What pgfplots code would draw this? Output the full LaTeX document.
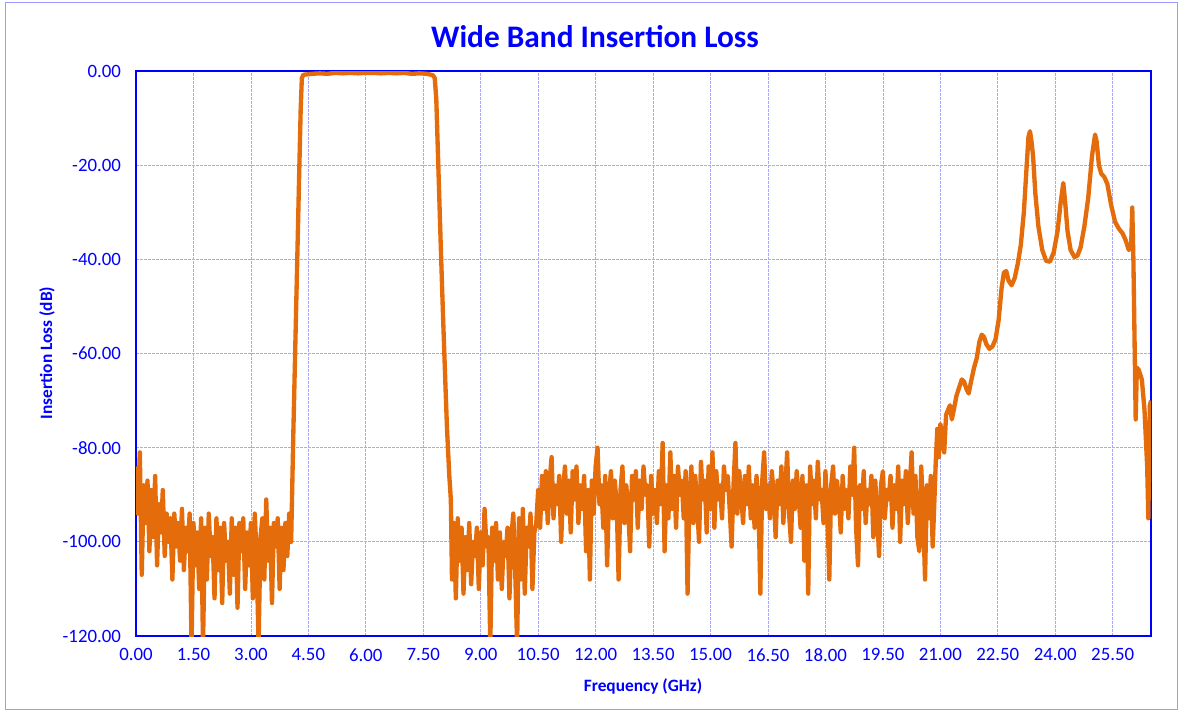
\documentclass[border=0pt]{standalone}
\usepackage{pgfplots}
\pgfplotsset{compat=1.18}
\usepackage{fontspec}
\setmainfont{Carlito}
\definecolor{lineor}{HTML}{E46C0A}
\definecolor{axblue}{HTML}{0000FF}
\definecolor{gridblue}{HTML}{A8A8FF}
\definecolor{framec}{HTML}{9C9CFF}
\begin{document}
\begin{tikzpicture}
\path (-81.6pt,-45pt) rectangle (626.4pt,381.6pt);
\draw[framec, line width=0.6pt] (-78pt,-43.8pt) rectangle (624.6pt,379.8pt);
\begin{axis}[
  name=ax, at={(0pt,0pt)}, anchor=south west,
  scale only axis, width=609pt, height=339pt,
  xmin=0, xmax=26.5, ymin=-120, ymax=0,
  xtick={0,1.5,3,4.5,6,7.5,9,10.5,12,13.5,15,16.5,18,19.5,21,22.5,24,25.5},
  xticklabels={0.00,1.50,3.00,4.50,6.00,7.50,9.00,10.50,12.00,13.50,15.00,16.50,18.00,19.50,21.00,22.50,24.00,25.50},
  ytick={-120,-100,-80,-60,-40,-20,0},
  yticklabels={-120.00,-100.00,-80.00,-60.00,-40.00,-20.00,0.00},
  major tick length=0pt,
  grid=major,
  major grid style={gridblue, line width=0.45pt, dash pattern=on 1.6pt off 0.8pt},
  axis line style={axblue, line width=1pt},
  ticklabel style={text=axblue, font=\fontsize{11.3}{13}\selectfont},
  xticklabel style={yshift=-4pt},
  yticklabel style={xshift=-5.5pt},
]
\addplot[lineor, line width=2.6pt, line join=round, mark=none] coordinates {
(0.00,-84) (0.05,-94) (0.10,-81) (0.15,-107) (0.20,-88) (0.25,-96) (0.30,-87) (0.35,-102) (0.40,-89) (0.45,-99)
(0.50,-86) (0.55,-105) (0.60,-92) (0.65,-98) (0.70,-89) (0.75,-103) (0.80,-94) (0.85,-100) (0.90,-95) (0.95,-108)
(1.00,-94) (1.05,-101) (1.10,-96) (1.15,-104) (1.20,-93) (1.25,-106) (1.30,-97) (1.35,-102) (1.40,-94) (1.45,-122)
(1.50,-96) (1.55,-105) (1.60,-98) (1.65,-110) (1.70,-95) (1.75,-122) (1.80,-97) (1.85,-108) (1.90,-94) (1.95,-103)
(2.00,-99) (2.05,-112) (2.10,-95) (2.15,-106) (2.20,-97) (2.25,-113) (2.30,-96) (2.35,-104) (2.40,-100) (2.45,-111)
(2.50,-95) (2.55,-107) (2.60,-97) (2.65,-114) (2.70,-96) (2.75,-102) (2.80,-95) (2.85,-110) (2.90,-98) (2.95,-105)
(3.00,-96) (3.05,-112) (3.10,-94) (3.15,-103) (3.20,-122) (3.25,-99) (3.30,-95) (3.35,-108) (3.40,-91) (3.45,-104)
(3.50,-97) (3.55,-113) (3.60,-96) (3.65,-101) (3.70,-95) (3.75,-110) (3.80,-97) (3.85,-106) (3.90,-96) (3.95,-103)
(4.00,-94) (4.05,-100) (4.08,-88) (4.11,-76) (4.16,-58) (4.21,-40) (4.26,-22) (4.30,-8) (4.33,-1.5) (4.37,-0.8)
(4.60,-0.6) (4.80,-0.5) (5.00,-0.6) (5.20,-0.4) (5.40,-0.5) (5.60,-0.4) (5.80,-0.5) (6.00,-0.4) (6.20,-0.4) (6.40,-0.5)
(6.60,-0.4) (6.80,-0.5) (7.00,-0.4) (7.20,-0.6) (7.40,-0.5) (7.60,-0.6) (7.75,-0.9)
(7.80,-1.5) (7.84,-6) (7.90,-22) (7.96,-38) (8.02,-53) (8.08,-67) (8.12,-76) (8.18,-86) (8.22,-91)
(8.25,-108) (8.30,-96) (8.35,-112) (8.40,-95) (8.45,-104) (8.50,-97) (8.55,-111) (8.60,-99) (8.65,-106) (8.70,-96)
(8.75,-109) (8.80,-100) (8.85,-103) (8.90,-97) (8.95,-110) (9.00,-98) (9.05,-105) (9.10,-93) (9.15,-101) (9.20,-99)
(9.25,-122) (9.30,-97) (9.35,-104) (9.40,-96) (9.45,-108) (9.50,-98) (9.55,-110) (9.60,-100) (9.65,-103) (9.70,-97)
(9.75,-112) (9.80,-99) (9.85,-94) (9.90,-106) (9.95,-122) (10.00,-95) (10.05,-108) (10.10,-93) (10.15,-111) (10.20,-97)
(10.25,-101) (10.30,-94) (10.35,-110) (10.40,-98) (10.45,-96)
(10.50,-89) (10.55,-97) (10.60,-86) (10.65,-93) (10.70,-85) (10.75,-96) (10.80,-87) (10.85,-82) (10.90,-95) (10.95,-88)
(11.00,-92) (11.05,-86) (11.10,-100) (11.15,-89) (11.20,-84) (11.25,-94) (11.30,-87) (11.35,-98) (11.40,-85) (11.45,-91)
(11.50,-84) (11.55,-96) (11.60,-88) (11.65,-93) (11.70,-86) (11.75,-102) (11.80,-89) (11.85,-108) (11.90,-87) (11.95,-94)
(12.00,-84) (12.05,-80) (12.10,-92) (12.15,-88) (12.20,-97) (12.25,-86) (12.30,-105) (12.35,-90) (12.40,-85) (12.45,-95)
(12.50,-87) (12.55,-92) (12.60,-108) (12.65,-89) (12.70,-84) (12.75,-96) (12.80,-88) (12.85,-93) (12.90,-102) (12.95,-86)
(13.00,-91) (13.05,-85) (13.10,-97) (13.15,-87) (13.20,-93) (13.25,-84) (13.30,-90) (13.35,-88) (13.40,-101) (13.45,-86)
(13.50,-94) (13.55,-89) (13.60,-96) (13.65,-85) (13.70,-92) (13.75,-79) (13.80,-102) (13.85,-88) (13.90,-95) (13.95,-81)
(14.00,-93) (14.05,-86) (14.10,-97) (14.15,-84) (14.20,-90) (14.25,-87) (14.30,-95) (14.35,-85) (14.40,-111) (14.45,-90)
(14.50,-84) (14.55,-96) (14.60,-86) (14.65,-92) (14.70,-100) (14.75,-83) (14.80,-91) (14.85,-87) (14.90,-98) (14.95,-84)
(15.00,-93) (15.05,-81) (15.10,-97) (15.15,-85) (15.20,-91) (15.25,-88) (15.30,-95) (15.35,-84) (15.40,-89) (15.45,-86)
(15.50,-93) (15.55,-101) (15.60,-88) (15.65,-79) (15.70,-94) (15.75,-85) (15.80,-90) (15.85,-96) (15.90,-86) (15.95,-92)
(16.00,-84) (16.05,-95) (16.10,-88) (16.15,-97) (16.20,-86) (16.25,-91) (16.30,-111) (16.35,-87) (16.40,-81) (16.45,-93)
(16.50,-88) (16.55,-95) (16.60,-85) (16.65,-90) (16.70,-99) (16.75,-87) (16.80,-92) (16.85,-84) (16.90,-96) (16.95,-89)
(17.00,-81) (17.05,-94) (17.10,-100) (17.15,-87) (17.20,-93) (17.25,-85) (17.30,-90) (17.35,-97) (17.40,-86) (17.45,-104)
(17.50,-88) (17.55,-111) (17.60,-84) (17.65,-92) (17.70,-87) (17.75,-95) (17.80,-83) (17.85,-91) (17.90,-89) (17.95,-96)
(18.00,-85) (18.05,-93) (18.10,-108) (18.15,-88) (18.20,-84) (18.25,-94) (18.30,-87) (18.35,-91) (18.40,-98) (18.45,-86)
(18.50,-93) (18.55,-89) (18.60,-95) (18.65,-84) (18.70,-90) (18.75,-80) (18.80,-97) (18.85,-105) (18.90,-88) (18.95,-93)
(19.00,-85) (19.05,-96) (19.10,-89) (19.15,-92) (19.20,-86) (19.25,-99) (19.30,-87) (19.35,-94) (19.40,-103) (19.45,-88)
(19.50,-85) (19.55,-95) (19.60,-89) (19.65,-91) (19.70,-86) (19.75,-97) (19.80,-88) (19.85,-93) (19.90,-84) (19.95,-100)
(20.00,-87) (20.05,-92) (20.10,-85) (20.15,-96) (20.20,-88) (20.25,-81) (20.30,-94) (20.35,-86) (20.40,-99) (20.45,-102)
(20.50,-84) (20.55,-93) (20.60,-108) (20.65,-88) (20.70,-95) (20.75,-86) (20.80,-101) (20.85,-90)
(20.88,-83) (20.92,-76) (20.96,-82) (21.00,-75) (21.05,-77) (21.10,-81) (21.15,-73) (21.20,-72) (21.25,-71) (21.30,-74)
(21.36,-71.6) (21.42,-69) (21.50,-67) (21.56,-65.5) (21.62,-66) (21.68,-67.5) (21.74,-68.5) (21.80,-66) (21.88,-63) (21.95,-61)
(22.02,-57.5) (22.08,-56) (22.14,-56.5) (22.20,-58) (22.28,-59) (22.36,-58.5) (22.44,-57) (22.52,-53) (22.60,-46) (22.66,-42.8)
(22.72,-42.5) (22.78,-44.5) (22.86,-45.5) (22.94,-44) (23.02,-41) (23.10,-37) (23.18,-30) (23.24,-22) (23.30,-14) (23.34,-12.8)
(23.38,-15) (23.42,-18) (23.48,-26) (23.56,-33) (23.66,-38) (23.76,-40.3) (23.86,-40.5) (23.96,-38.5) (24.06,-34) (24.14,-28)
(24.21,-23.8) (24.26,-28) (24.32,-34) (24.40,-38) (24.50,-39.5) (24.58,-39.2) (24.66,-37.5) (24.76,-33) (24.86,-27) (24.96,-18)
(25.04,-13.5) (25.08,-15) (25.14,-20) (25.20,-21.8) (25.28,-22.5) (25.36,-24) (25.46,-28.5) (25.56,-32) (25.66,-33.5) (25.76,-34.5)
(25.84,-36) (25.92,-38) (25.98,-37.5) (26.01,-29) (26.04,-40) (26.10,-74) (26.13,-63) (26.18,-63.5) (26.26,-65.5) (26.33,-72)
(26.40,-84) (26.43,-95) (26.47,-71) (26.50,-70)
};
\end{axis}
\node[text=axblue, font=\fontsize{18.8}{22}\bfseries\selectfont] at (275.4pt,359.4pt) {Wide Band Insertion Loss};
\node[text=axblue, font=\fontsize{10.4}{12}\bfseries\selectfont] at (304.2pt,-30pt) {Frequency (GHz)};
\node[text=axblue, font=\fontsize{10.4}{12}\bfseries\selectfont, rotate=90] at (-53.4pt,169.8pt) {Insertion Loss (dB)};
\end{tikzpicture}
\end{document}
